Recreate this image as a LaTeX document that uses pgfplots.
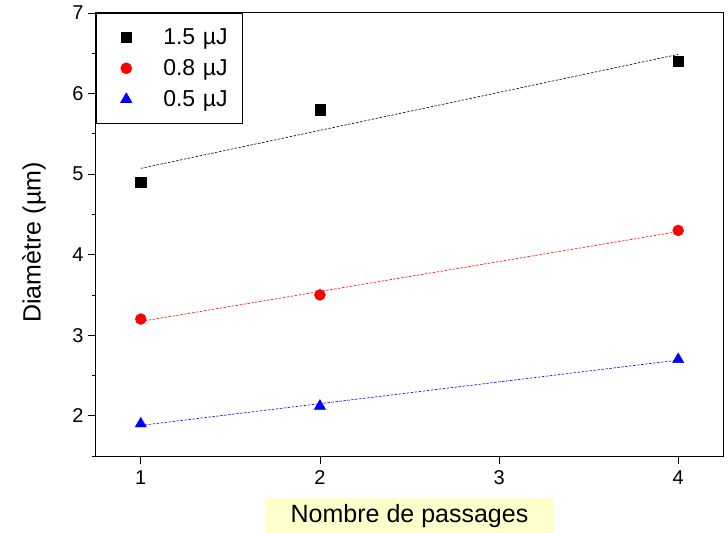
\documentclass[border=0pt]{standalone}
\usepackage{fontspec}
\setmainfont{Liberation Sans}
\usepackage{pgfplots}
\pgfplotsset{compat=1.18}
\definecolor{labelbg}{RGB}{255,255,204}
\begin{document}
\begin{tikzpicture}
\useasboundingbox (-96bp,-77bp) rectangle (632bp,456bp);
\begin{axis}[
  at={(0,0)}, anchor=south west,
  scale only axis, width=627bp, height=443bp,
  xmin=0.75, xmax=4.25, ymin=1.5, ymax=7,
  xtick={1,2,3,4}, ytick={2,3,4,5,6,7},
  minor ytick={1.5,2.5,3.5,4.5,5.5,6.5},
  tick align=outside, xtick pos=bottom, ytick pos=left,
  major tick length=8bp, minor tick length=4bp,
  every tick/.style={black, line width=0.8bp},
  axis line style={line width=1bp},
  /pgf/number format/assume math mode=true,
  tick label style={font=\fontsize{20bp}{22bp}\selectfont},
  xticklabel style={yshift=-3bp},
  yticklabel style={xshift=-1bp},
  xlabel={Nombre de passages},
  ylabel={Diamètre (µm)},
  xlabel style={at={(axis description cs:0.5,0)}, anchor=north, yshift=-42bp,
    fill=labelbg, minimum width=289bp, minimum height=35bp, inner sep=0pt,
    font=\fontsize{25bp}{28bp}\selectfont},
  ylabel style={at={(axis description cs:0,0.5)}, anchor=south, xshift=-8bp, yshift=50bp, inner sep=0pt,
    font=\fontsize{25bp}{28bp}\selectfont},
  legend style={at={(0,1)}, anchor=north west, draw=black, line width=0.6bp,
    font=\fontsize{23bp}{26bp}\selectfont, inner xsep=5bp, inner ysep=10bp,
    row sep=3bp, nodes={inner sep=2bp, text height=19bp, text depth=5bp},
    /tikz/every odd column/.append style={column sep=12bp},
    /tikz/every even column/.append style={text width=72bp}},
  legend cell align=left,
  legend image code/.code={\path[draw=none,fill=none] (0bp,-5bp) rectangle (48bp,5bp); \draw[#1,only marks] plot coordinates {(25bp,0bp)};},
]
% fit lines
\addplot[forget plot, black, line width=0.6bp, dash pattern=on 2.5bp off 1.5bp] coordinates {(1,5.071) (4,6.486)};
\addplot[forget plot, red, line width=0.6bp, dash pattern=on 2.5bp off 1.5bp] coordinates {(1,3.171) (4,4.286)};
\addplot[forget plot, blue, line width=0.6bp, dash pattern=on 2.5bp off 1.5bp] coordinates {(1,1.88) (4,2.69)};
% data
\addplot[only marks, mark=square*, mark size=5.2bp, black, mark options={fill=black}] coordinates {(1,4.9) (2,5.8) (4,6.4)};
\addlegendentry{1.5 µJ}
\addplot[only marks, mark=*, mark size=5.5bp, red, mark options={fill=red, draw=red}] coordinates {(1,3.2) (2,3.5) (4,4.3)};
\addlegendentry{0.8 µJ}
\addplot[only marks, mark=triangle*, mark size=6.5bp, blue, mark options={fill=blue, draw=blue}] coordinates {(1,1.9) (2,2.12) (4,2.7)};
\addlegendentry{0.5 µJ}
\end{axis}
\end{tikzpicture}
\end{document}
